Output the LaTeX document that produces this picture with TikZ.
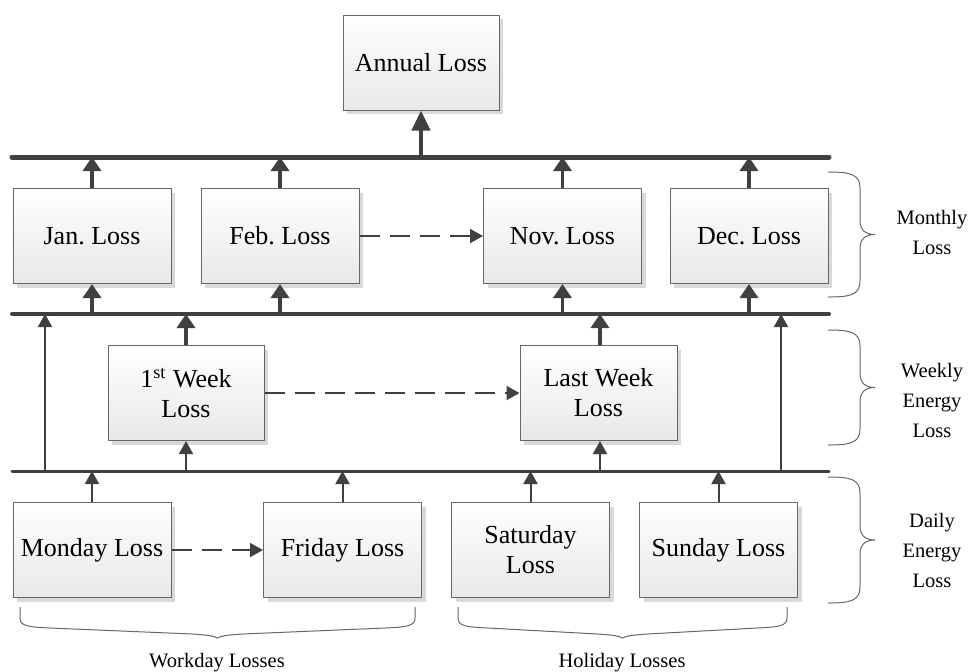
\documentclass[tikz,border=0pt]{standalone}
\usepackage{fontspec}
\setmainfont{Liberation Serif}
\usetikzlibrary{positioning,arrows.meta,shadows}
\frenchspacing

\begin{document}
\begin{tikzpicture}[
    x=0.5pt, y=-0.5pt,
    loss/.style={
        rectangle,
        draw=black!60,
        line width=0.5pt,
        top color=white,
        bottom color=black!9,
        minimum width=79pt,
        minimum height=47.5pt,
        align=center,
        font=\fontsize{13}{15}\selectfont,
        drop shadow={shadow xshift=2pt, shadow yshift=-2pt, fill=black, opacity=0.15},},
    bus/.style={draw=black!75, line cap=round},
    thk/.style={
        -{Triangle[length=7pt,width=9pt]},
        draw=black!75,
        line width=1.7pt,},
    thn/.style={
        -{Triangle[length=6.5pt,width=7pt]},
        draw=black!75,
        line width=1pt,},
    dsh/.style={thn, dash pattern=on 10pt off 5pt},
    brace/.style={draw=black!60, line width=0.5pt},
    side/.style={align=center, font=\fontsize{10.25}{15}\selectfont},
]
\useasboundingbox (0,0) rectangle (969,671);

% boxes
\node[loss, minimum width=78pt] (annual) at (421,62.5) {Annual Loss};

\node[loss] (jan) at (92,236) {Jan. Loss};
\node[loss] (feb) at (280,236) {Feb. Loss};
\node[loss] (nov) at (562.5,236) {Nov. Loss};
\node[loss] (dec) at (749,236) {Dec. Loss};

\node[loss, minimum width=78pt] (week1) at (186,393) {1\textsuperscript{st} Week\\Loss};
\node[loss, minimum width=78.5pt] (weekN) at (598.5,393) {Last Week\\Loss};

\node[loss] (mon) at (92,550) {Monday Loss};
\node[loss] (fri) at (342.5,550) {Friday Loss};
\node[loss] (sat) at (530.5,550) {Saturday\\Loss};
\node[loss] (sun) at (718.5,550) {Sunday Loss};

% bus lines
\coordinate (busA) at (12,157);
\coordinate (busB) at (12,314);
\coordinate (busC) at (12,471);
\draw[bus, line width=2.5pt] (busA) -- (829,157);
\draw[bus, line width=2pt] (busB) -- (829,314);
\draw[bus, line width=1.5pt] (busC) -- (829,471);

% arrows to the buses and boxes
\draw[thk, line width=2.2pt, -{Triangle[length=10pt,width=9pt]}] (annual.south |- busA) -- (annual.south);
\foreach \m in {jan,feb,nov,dec} {
    \draw[thk] (\m.north) -- (\m.north |- busA);
    \draw[thk] (\m.south |- busB) -- (\m.south);
}
\draw[thk] (week1.north) -- (week1.north |- busB);
\draw[thk] (weekN.north -| 600,0) -- (600,314);
\draw[thn] (week1.south |- busC) -- (week1.south);
\draw[thn] (600,471) -- (weekN.south -| 600,0);
\draw[thn] (45,471) -- (45,314);
\draw[thn] (781,471) -- (781,314);
\foreach \d in {mon,fri,sat,sun}
    \draw[thn] (\d.north) -- (\d.north |- busC);

% dashed links
\draw[dsh] (feb) -- (nov);
\draw[dsh] (week1) -- (weekN);
\draw[dsh] (mon) -- (fri);

% side braces
\foreach \yt/\yb in {172/297, 330/445, 477/603} {
    \pgfmathsetmacro\ym{(\yt+\yb)/2}
    \draw[brace] (828,\yt) .. controls (850,\yt) and (860,\yt+2) .. (860,\yt+16)
        -- (860,\ym-14) .. controls (860,\ym-4) and (866,\ym) .. (875,\ym)
        .. controls (866,\ym) and (860,\ym+4) .. (860,\ym+14)
        -- (860,\yb-16) .. controls (860,\yb-2) and (850,\yb) .. (828,\yb);
}
\node[side] (monthly) at (932,232) {Monthly\\Loss};
\node[side] (weekly) at (932,400) {Weekly\\Energy\\Loss};
\node[side] (daily) at (932,550) {Daily\\Energy\\Loss};

% bottom braces
\foreach \xl/\xr in {20/415, 458/787} {
    \pgfmathsetmacro\xm{(\xl+\xr)/2}
    \draw[brace] (\xl,607) -- (\xl,618) .. controls (\xl,626) and (\xl+8,627) .. (\xl+30,628)
        -- (\xm-25,634) .. controls (\xm-10,635) and (\xm-3,636) .. (\xm,638)
        .. controls (\xm+3,636) and (\xm+10,635) .. (\xm+25,634)
        -- (\xr-30,628) .. controls (\xr-8,627) and (\xr,626) .. (\xr,618) -- (\xr,607);
}
\node[side] (workday) at (217,663) {Workday Losses};
\node[side] (holiday) at (622,663) {Holiday Losses};

\end{tikzpicture}
\end{document}
